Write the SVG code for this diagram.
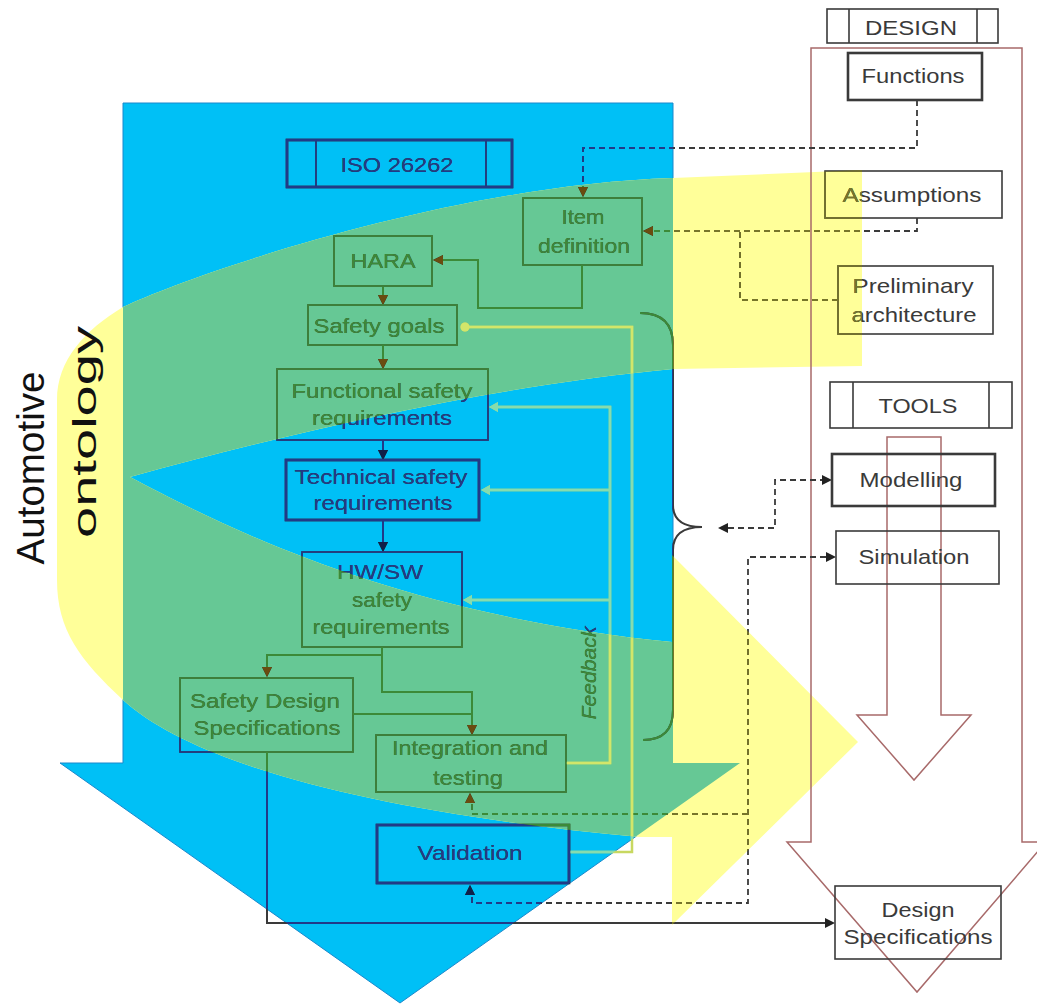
<svg xmlns="http://www.w3.org/2000/svg" xmlns:xlink="http://www.w3.org/1999/xlink" width="1037" height="1005" viewBox="0 0 1037 1005">
<style>
text{font-family:"Liberation Sans",Arial,sans-serif;font-size:21px;text-anchor:middle;fill:currentColor}
.bx{fill:none;stroke:currentColor;stroke-width:1.6}
.bxt{fill:none;stroke:currentColor;stroke-width:2.6}
.ln{fill:none;stroke:currentColor;stroke-width:2}
.dl{fill:none;stroke:currentColor;stroke-width:1.8;stroke-dasharray:6 4}
.fb{fill:none;stroke:var(--fb,#cfe46a);stroke-width:2.5}
.fba{fill:var(--fb,#cfe46a)}
.ah{fill:var(--ah,#333)}
.big{fill:none;stroke:#a86a6a;stroke-width:1.5}
.lab{fill:#111;font-family:"Liberation Sans",Arial,sans-serif}
</style>
<defs>
<path id="blueShape" d="M123 103 H673 V763 H740 L400 1003 L60 763 H123 Z"/>
<path id="yelShape" d="M862 170 V366 L673 369 C500 385 300 430 130 477 C230 530 400 615 672 642 V555 L858 742 L672 925 V837 H640 C400 815 200 770 123 700 C80 660 57 630 57 580 V400 C57 360 85 330 123 307 C190 275 450 185 673 178 Z"/>
<clipPath id="cpBlue"><use xlink:href="#blueShape"/></clipPath>
<mask id="mGreen" maskUnits="userSpaceOnUse" x="0" y="0" width="1037" height="1005"><use xlink:href="#yelShape" fill="#fff" clip-path="url(#cpBlue)"/></mask>
<mask id="mYel" maskUnits="userSpaceOnUse" x="0" y="0" width="1037" height="1005"><use xlink:href="#yelShape" fill="#fff"/><use xlink:href="#blueShape" fill="#000"/></mask>
<mask id="mBlue" maskUnits="userSpaceOnUse" x="0" y="0" width="1037" height="1005"><use xlink:href="#blueShape" fill="#fff"/><use xlink:href="#yelShape" fill="#000"/></mask>
</defs>
<rect width="1037" height="1005" fill="#fff"/>
<g id="background">
<use xlink:href="#blueShape" fill="#00C0F6" stroke="#1a88cc" stroke-width="1"/>
<use xlink:href="#yelShape" fill="#FFFF99"/>
<use xlink:href="#yelShape" fill="#66C895" clip-path="url(#cpBlue)"/>
</g>
<g id="design-arrows">
<path class="big" d="M811 48 H1022 V842 H1046 L917 992 L787 842 H811 Z"/>
<path class="big" d="M887 437 H941 V715 H971 L914 780 L857 715 H887 Z"/>
</g>
<g id="ontology-label">
<text class="lab" transform="translate(44,468) rotate(-90)" textLength="193" lengthAdjust="spacingAndGlyphs" style="font-size:39px;fill:#111">Automotive</text>
<text class="lab" transform="translate(96,432) rotate(-90)" textLength="212" lengthAdjust="spacingAndGlyphs" style="font-size:34px;fill:#111">ontology</text>
</g>
<g style="color:#3a3a3a;--ah:#222;--fb:#c8d860">
<g id="diagram">
<g id="connectors">
<path class="dl" d="M917 100 V148 H583 V187"/>
<polygon class="ah" points="578,187 588,187 583,197"/>
<path class="dl" d="M917 218 V231 H653"/>
<path class="dl" d="M838 300 H740 V231"/>
<polygon class="ah" points="643,231 653,226 653,236"/>
<path class="dl" d="M728 528 H775 V480 H822"/>
<polygon class="ah" points="718,528 728,523 728,533"/>
<polygon class="ah" points="832,480 822,475 822,485"/>
<path class="dl" d="M826 557 H748 V903 H472 V895"/>
<path class="dl" d="M748 814 H472 V803"/>
<polygon class="ah" points="836,557 826,552 826,562"/>
<polygon class="ah" points="470,793 465,803 475,803"/>
<polygon class="ah" points="470,885 465,895 475,895"/>
<path class="ln" d="M582 265 V308 H478 V260 H443"/>
<polygon class="ah" points="433,260 443,255 443,265"/>
<path class="ln" d="M383 287 V296"/>
<polygon class="ah" points="378,295 388,295 383,305"/>
<path class="ln" d="M383 345 V359"/>
<polygon class="ah" points="378,359 388,359 383,369"/>
<path class="ln" d="M383 440 V451"/>
<polygon class="ah" points="378,450 388,450 383,460"/>
<path class="ln" d="M383 520 V543"/>
<polygon class="ah" points="378,542 388,542 383,552"/>
<path class="ln" d="M382 647 V655 H267 V668"/>
<polygon class="ah" points="262,667 272,667 267,677"/>
<path class="ln" d="M382 655 V692 H472 V726"/>
<polygon class="ah" points="467,725 477,725 472,735"/>
<path class="ln" d="M353 714 H472"/>
<path class="ln" d="M267 752 V923 H826"/>
<polygon class="ah" points="835,923 825,918 825,928"/>
<path class="fb" d="M569 852 H632 V327 H468"/>
<circle class="fba" cx="465" cy="327" r="4.5"/>
<path class="fb" d="M566 763 H610 V407 H497"/>
<polygon class="fba" points="489,407 498,402 498,412"/>
<path class="fb" d="M610 490 H490"/>
<polygon class="fba" points="481,490 490,485 490,495"/>
<path class="fb" d="M610 600 H472"/>
<polygon class="fba" points="463,600 472,595 472,605"/>
<path class="ln" d="M640 313 Q673 313 673 345 V505 Q673 527 702 527 Q673 527 673 550 V710 Q673 740 643 740"/>
</g>
<g id="n-iso"><rect class="bxt" x="287" y="140" width="225" height="47"/><path class="bx" d="M316 140 V187 M486 140 V187"/><text x="397" y="172" textLength="113" lengthAdjust="spacingAndGlyphs">ISO 26262</text></g>
<g id="n-item"><rect class="bx" x="523" y="198" width="119" height="67"/><text x="583" y="224" textLength="43" lengthAdjust="spacingAndGlyphs">Item</text><text x="584" y="253" textLength="92" lengthAdjust="spacingAndGlyphs">definition</text></g>
<g id="n-hara"><rect class="bx" x="334" y="236" width="98" height="50"/><text x="383" y="268" textLength="65" lengthAdjust="spacingAndGlyphs">HARA</text></g>
<g id="n-goals"><rect class="bx" x="308" y="305" width="149" height="40"/><text x="379" y="333" textLength="131" lengthAdjust="spacingAndGlyphs">Safety goals</text></g>
<g id="n-fsr"><rect class="bx" x="277" y="369" width="211" height="71"/><text x="382" y="398" textLength="181" lengthAdjust="spacingAndGlyphs">Functional safety</text><text x="382" y="425" textLength="140" lengthAdjust="spacingAndGlyphs">requirements</text></g>
<g id="n-tsr"><rect class="bxt" x="286" y="460" width="193" height="60"/><text x="381" y="484" textLength="173" lengthAdjust="spacingAndGlyphs">Technical safety</text><text x="383" y="510" textLength="139" lengthAdjust="spacingAndGlyphs">requirements</text></g>
<g id="n-hwsw"><rect class="bx" x="302" y="552" width="160" height="95"/><text x="380" y="579" textLength="86" lengthAdjust="spacingAndGlyphs">HW/SW</text><text x="382" y="607" textLength="60" lengthAdjust="spacingAndGlyphs">safety</text><text x="381" y="634" textLength="137" lengthAdjust="spacingAndGlyphs">requirements</text></g>
<g id="n-sds"><rect class="bx" x="180" y="678" width="173" height="74"/><text x="265" y="708" textLength="150" lengthAdjust="spacingAndGlyphs">Safety Design</text><text x="267" y="735" textLength="147" lengthAdjust="spacingAndGlyphs">Specifications</text></g>
<g id="n-integ"><rect class="bx" x="376" y="735" width="190" height="57"/><text x="470" y="755" textLength="156" lengthAdjust="spacingAndGlyphs">Integration and</text><text x="468" y="785" textLength="70" lengthAdjust="spacingAndGlyphs">testing</text></g>
<g id="n-valid"><rect class="bxt" x="377" y="825" width="192" height="58"/><text x="470" y="860" textLength="105" lengthAdjust="spacingAndGlyphs">Validation</text></g>
<g id="n-feedback"><text transform="translate(596,673) rotate(-90)" textLength="93" lengthAdjust="spacingAndGlyphs" style="font-style:italic">Feedback</text></g>
<g id="n-design"><rect class="bx" x="827" y="9" width="171" height="34"/><path class="bx" d="M849 9 V43 M977 9 V43"/><text x="911" y="35" textLength="92" lengthAdjust="spacingAndGlyphs">DESIGN</text></g>
<g id="n-functions"><rect class="bxt" x="848" y="53" width="134" height="47"/><text x="913" y="83" textLength="103" lengthAdjust="spacingAndGlyphs">Functions</text></g>
<g id="n-assump"><rect class="bx" x="825" y="171" width="177" height="47"/><text x="912" y="202" textLength="139" lengthAdjust="spacingAndGlyphs">Assumptions</text></g>
<g id="n-prelim"><rect class="bx" x="838" y="266" width="155" height="68"/><text x="913" y="293" textLength="121" lengthAdjust="spacingAndGlyphs">Preliminary</text><text x="914" y="322" textLength="125" lengthAdjust="spacingAndGlyphs">architecture</text></g>
<g id="n-tools"><rect class="bx" x="830" y="382" width="182" height="46"/><path class="bx" d="M853 382 V428 M989 382 V428"/><text x="918" y="413" textLength="79" lengthAdjust="spacingAndGlyphs">TOOLS</text></g>
<g id="n-model"><rect class="bxt" x="832" y="454" width="163" height="52"/><text x="911" y="487" textLength="103" lengthAdjust="spacingAndGlyphs">Modelling</text></g>
<g id="n-sim"><rect class="bx" x="836" y="531" width="163" height="53"/><text x="914" y="564" textLength="111" lengthAdjust="spacingAndGlyphs">Simulation</text></g>
<g id="n-dspec"><rect class="bx" x="835" y="886" width="166" height="73"/><text x="918" y="917" textLength="73" lengthAdjust="spacingAndGlyphs">Design</text><text x="918" y="944" textLength="149" lengthAdjust="spacingAndGlyphs">Specifications</text></g>
</g>
</g>
<use xlink:href="#diagram" mask="url(#mBlue)" style="color:#213a88;--ah:#10204a;--fb:#86dcae"/>
<use xlink:href="#diagram" mask="url(#mGreen)" style="color:#3c8a38;--ah:#6a4c10;--fb:#d2e66a"/>
<use xlink:href="#diagram" mask="url(#mYel)" style="color:#77752a;--ah:#5a5010;--fb:#e0e060"/>
</svg>
